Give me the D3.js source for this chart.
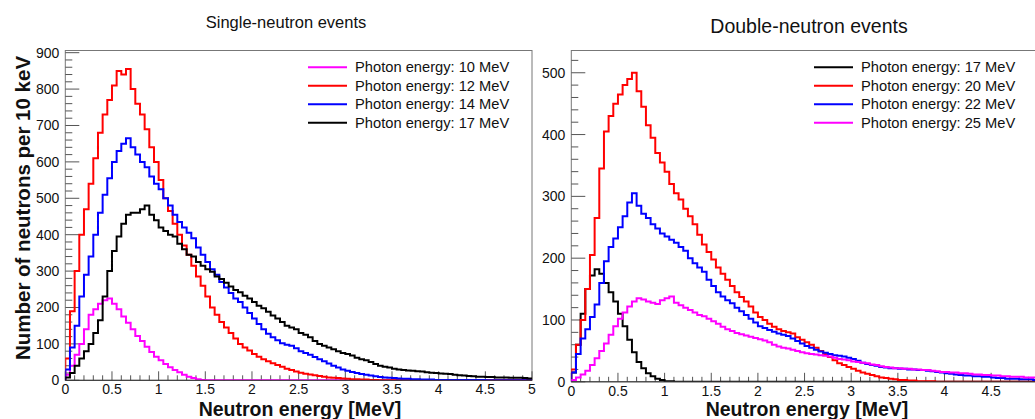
<!DOCTYPE html>
<html>
<head>
<meta charset="utf-8">
<script src="https://cdn.jsdelivr.net/npm/d3@7"></script>
<style>
  body { margin: 0; background: #fff; }
  svg { display: block; font-family: 'Liberation Sans', Arial, sans-serif; }
</style>
</head>
<body>
<svg id="chart" width="1035" height="419"></svg>
<script>
// bin width 50 keV, value i covers [i*0.05, (i+1)*0.05] MeV
const BIN = 0.05

// single-neutron events
const single10 = [15, 40, 70, 100, 140, 180, 195, 210, 220, 225, 210, 195, 175, 158, 140, 122, 108, 92, 78, 65,
    55, 45, 36, 28, 22, 15, 10, 6, 3, 1]
const single12 = [60, 190, 300, 400, 470, 540, 610, 680, 730, 770, 810, 850, 840, 855, 800, 760, 730, 690, 640, 600,
    550, 500, 465, 430, 400, 370, 345, 315, 285, 260, 230, 200, 180, 160, 145, 130, 115, 100, 90, 82,
    72, 65, 58, 52, 47, 42, 37, 32, 28, 24, 21, 18, 16, 14, 12, 10, 8, 7, 6, 5,
    4, 3, 3, 2, 2, 1, 1]
const single14 = [30, 90, 150, 230, 290, 340, 400, 460, 510, 555, 600, 630, 650, 665, 640, 620, 600, 585, 560, 540,
    525, 500, 480, 455, 435, 420, 405, 390, 365, 345, 325, 305, 290, 270, 255, 240, 225, 215, 200, 185,
    170, 155, 140, 128, 118, 110, 102, 98, 95, 88, 80, 75, 70, 64, 58, 52, 46, 40, 35, 30,
    26, 23, 20, 17, 15, 13, 11, 9, 8, 7, 6, 5, 4, 4, 3, 3, 2, 2, 2, 1,
    1, 1, 1, 1, 1, 1, 1, 1, 1, 1]
const single17 = [8, 20, 40, 60, 80, 100, 130, 165, 230, 300, 355, 395, 430, 455, 460, 460, 470, 480, 455, 440,
    420, 410, 400, 395, 375, 360, 345, 340, 325, 315, 305, 298, 285, 278, 268, 258, 248, 242, 232, 225,
    215, 205, 198, 188, 178, 170, 160, 150, 145, 140, 130, 125, 118, 108, 100, 95, 90, 85, 80, 75,
    72, 68, 62, 58, 55, 50, 45, 40, 37, 35, 32, 30, 28, 27, 26, 25, 24, 22, 21, 20,
    19, 18, 17, 15, 14, 13, 12, 11, 10, 10, 9, 9, 8, 8, 8, 7, 7, 7, 6, 5]

// double-neutron events
const double17 = [15, 60, 110, 150, 172, 182, 175, 160, 145, 130, 110, 90, 68, 48, 32, 22, 14, 9, 5, 3,
    1, 1]
const double20 = [20, 60, 100, 150, 205, 265, 345, 405, 430, 450, 465, 480, 490, 500, 470, 445, 415, 395, 370, 355,
    340, 320, 305, 295, 280, 268, 255, 238, 222, 210, 198, 185, 175, 165, 155, 145, 137, 130, 122, 112,
    105, 100, 94, 89, 85, 82, 80, 78, 72, 68, 64, 60, 55, 50, 45, 40, 35, 30, 27, 24,
    21, 18, 15, 13, 11, 9, 7, 6, 5, 4, 3, 3, 2, 2, 1, 1, 1, 1]
const double22 = [15, 45, 70, 85, 105, 125, 160, 195, 218, 232, 250, 268, 290, 305, 285, 272, 265, 255, 248, 240,
    235, 230, 225, 218, 212, 200, 192, 185, 178, 165, 155, 145, 138, 132, 127, 120, 114, 108, 102, 96,
    90, 87, 84, 81, 78, 76, 74, 70, 66, 62, 58, 55, 52, 49, 47, 45, 43, 42, 41, 39,
    37, 34, 31, 29, 27, 26, 24, 23, 22, 22, 21, 21, 20, 20, 19, 19, 18, 17, 16, 15,
    14, 13, 12, 11, 10, 10, 9, 9, 8, 8, 7, 6, 6, 5, 5, 5, 4, 4, 4, 3]
const double25 = [3, 7, 12, 18, 27, 38, 50, 62, 76, 90, 102, 112, 122, 130, 135, 133, 130, 128, 126, 132,
    135, 138, 128, 124, 120, 116, 112, 108, 106, 102, 98, 94, 89, 85, 82, 79, 77, 75, 73, 71,
    69, 67, 64, 60, 57, 55, 54, 52, 50, 48, 46, 45, 44, 43, 42, 41, 39, 37, 36, 35,
    33, 32, 31, 30, 28, 27, 25, 24, 23, 22, 22, 21, 21, 20, 20, 19, 19, 18, 17, 16,
    16, 15, 15, 14, 14, 13, 12, 12, 11, 11, 10, 10, 9, 9, 8, 8, 8, 7, 7, 7]

const singleXTicks = [0, 0.5, 1, 1.5, 2, 2.5, 3, 3.5, 4, 4.5, 5]
const doubleXTicks = [0, 0.5, 1, 1.5, 2, 2.5, 3, 3.5, 4, 4.5]
const singleYTicks = [0, 100, 200, 300, 400, 500, 600, 700, 800, 900]
const doubleYTicks = [0, 100, 200, 300, 400, 500]

const svg = d3.select('#chart')

const panels = [
    {
        title: 'Single-neutron events', titleX: 286, titleY: 28, titleSize: 16.5,
        x0: 65.3, x1: 532, yBase: 380.3, yTop: 50.5, yMax: 906,
        xTicks: singleXTicks, yTicks: singleYTicks, legendX: 308, xTitleX: 300,
        series: [
            {label: 'Photon energy: 10 MeV', color: '#ff00ff', values: single10},
            {label: 'Photon energy: 12 MeV', color: '#ff0000', values: single12},
            {label: 'Photon energy: 14 MeV', color: '#0000ff', values: single14},
            {label: 'Photon energy: 17 MeV', color: '#000000', values: single17}
        ]
    },
    {
        title: 'Double-neutron events', titleX: 809, titleY: 33, titleSize: 19.5,
        x0: 571.3, x1: 1037.8, yBase: 381.8, yTop: 50.5, yMax: 536,
        xTicks: doubleXTicks, yTicks: doubleYTicks, legendX: 814, xTitleX: 807,
        series: [
            {label: 'Photon energy: 17 MeV', color: '#000000', values: double17},
            {label: 'Photon energy: 20 MeV', color: '#ff0000', values: double20},
            {label: 'Photon energy: 22 MeV', color: '#0000ff', values: double22},
            {label: 'Photon energy: 25 MeV', color: '#ff00ff', values: double25}
        ]
    }
]

panels.forEach((p, pi) => {
    const x = d3.scaleLinear().domain([0, 5]).range([p.x0, p.x1])
    const y = d3.scaleLinear().domain([0, p.yMax]).range([p.yBase, p.yTop])
    const g = svg.append('g')

    g.append('clipPath').attr('id', 'clip' + pi)
        .append('rect')
        .attr('x', p.x0).attr('y', p.yTop)
        .attr('width', p.x1 - p.x0).attr('height', p.yBase - p.yTop)

    // frame
    g.append('rect')
        .attr('x', p.x0).attr('y', p.yTop)
        .attr('width', p.x1 - p.x0).attr('height', p.yBase - p.yTop)
        .attr('fill', 'none').attr('stroke', '#777').attr('stroke-width', 1)

    // y ticks (inside, ROOT style)
    const yMinor = d3.range(0, p.yMax, 20)
    g.selectAll('.ymin').data(yMinor).join('line')
        .attr('x1', p.x0).attr('x2', d => p.x0 + (d % 100 === 0 ? 14 : 7))
        .attr('y1', d => y(d)).attr('y2', d => y(d))
        .attr('stroke', '#555').attr('stroke-width', 1)
    g.selectAll('.ylab').data(p.yTicks).join('text')
        .attr('x', p.x0 - 6).attr('y', d => y(d) + 5)
        .attr('text-anchor', 'end').attr('font-size', 14).attr('fill', '#111')
        .text(d => d)

    // x ticks
    const xMinor = d3.range(0, 51).map(i => i / 10)
    g.selectAll('.xmin').data(xMinor).join('line')
        .attr('x1', d => x(d)).attr('x2', d => x(d))
        .attr('y1', p.yBase).attr('y2', (d, i) => p.yBase - (i % 5 === 0 ? 9 : 5))
        .attr('stroke', '#555').attr('stroke-width', 1)
    g.selectAll('.xlab').data(p.xTicks).join('text')
        .attr('x', d => x(d)).attr('y', p.yBase + 14)
        .attr('text-anchor', 'middle').attr('font-size', 14).attr('fill', '#111')
        .text(d => d)

    // histograms as steps
    const line = d3.line()
        .x(d => x(d[0])).y(d => y(d[1]))
        .curve(d3.curveStepAfter)
    p.series.forEach(s => {
        const pts = [[0, 0]]
        for (let i = 0; i < 100; i++) {
            pts.push([i * BIN, i < s.values.length ? s.values[i] : 0])
        }
        pts.push([5, pts[pts.length - 1][1]])
        g.append('path')
            .attr('d', line(pts))
            .attr('fill', 'none')
            .attr('stroke', s.color)
            .attr('stroke-width', 2)
            .attr('clip-path', `url(#clip${pi})`)
    })

    // bottom axis line drawn over
    g.append('line')
        .attr('x1', p.x0).attr('x2', p.x1)
        .attr('y1', p.yBase).attr('y2', p.yBase)
        .attr('stroke', '#333').attr('stroke-width', 1)

    // legend
    p.series.forEach((s, i) => {
        const ly = 67.3 + i * 18.5
        g.append('line')
            .attr('x1', p.legendX).attr('x2', p.legendX + 39)
            .attr('y1', ly).attr('y2', ly)
            .attr('stroke', s.color).attr('stroke-width', 2)
        g.append('text')
            .attr('x', p.legendX + 47).attr('y', ly + 5)
            .attr('font-size', 14.7).attr('fill', '#111')
            .text(s.label)
    })

    // titles
    g.append('text')
        .attr('x', p.titleX).attr('y', p.titleY)
        .attr('text-anchor', 'middle').attr('font-size', p.titleSize).attr('fill', '#111')
        .text(p.title)
    g.append('text')
        .attr('x', p.xTitleX).attr('y', 416)
        .attr('text-anchor', 'middle').attr('font-size', 19.5).attr('font-weight', 'bold').attr('fill', '#111')
        .text('Neutron energy [MeV]')
})

svg.append('text')
    .attr('transform', 'translate(30,208) rotate(-90)')
    .attr('text-anchor', 'middle').attr('font-size', 20.5).attr('font-weight', 'bold').attr('fill', '#111')
    .text('Number of neutrons per 10 keV')
</script>
</body>
</html>
